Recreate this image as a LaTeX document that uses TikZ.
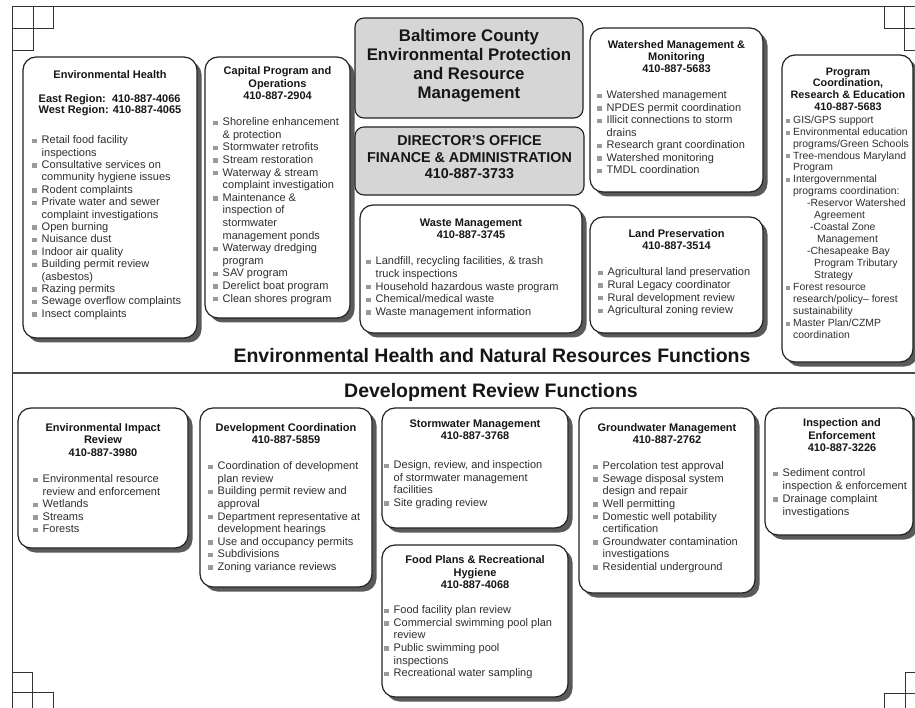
\documentclass[tikz,border=0pt]{standalone}
\usepackage{fontspec}
\setmainfont{Liberation Sans}
\definecolor{bodytxt}{HTML}{2E2E2E}
\definecolor{ttltxt}{HTML}{161616}
\definecolor{graybg}{HTML}{D6D6D6}
\definecolor{shadowc}{HTML}{5A5A5A}
\definecolor{edge}{HTML}{222222}
\definecolor{bulc}{HTML}{9A9A9A}
\newcommand{\bu}{\makebox[9.5pt][l]{\textcolor{bulc}{\rule[0.6pt]{4.4pt}{4.4pt}}}}
\newcommand{\ci}{\hspace*{9.5pt}}
\newcommand{\bs}{\makebox[7pt][l]{\textcolor{bulc}{\rule[0.6pt]{4pt}{4pt}}}}
\newcommand{\cs}{\hspace*{7pt}}
\tikzset{
 wbox/.style={draw=edge, line width=1.2pt, fill=white, rounded corners=13pt, inner sep=0pt, outer sep=0pt},
 gbox/.style={draw=edge, line width=1.1pt, fill=graybg, rounded corners=9pt, inner sep=0pt, outer sep=0pt},
 sbox/.style={fill=shadowc, rounded corners=13pt, inner sep=0pt, outer sep=0pt},
 ttl/.style={font=\fontsize{11}{12.2}\selectfont\bfseries, text=ttltxt, align=center, anchor=north, inner sep=0pt},
 body/.style={font=\fontsize{11}{12.6}\selectfont, text=bodytxt, align=left, anchor=north west, inner sep=0pt},
 heading/.style={font=\fontsize{19.5}{22}\selectfont\bfseries, text=ttltxt, anchor=base, inner sep=0pt},
 crop/.style={draw=black!80, line width=0.9pt},
 divider/.style={draw=black!70, line width=2.2pt},
}
\newcommand{\panel}[5]{%
  \node[sbox, minimum width={#4pt-#2pt}, minimum height={#5pt-#3pt}, anchor=north west] (#1s) at ({#2+4.5},{#3+4.5}) {};
  \node[wbox, minimum width={#4pt-#2pt}, minimum height={#5pt-#3pt}, anchor=north west] (#1) at (#2,#3) {};
}
\newcommand{\gpanel}[5]{%
  \node[gbox, minimum width={#4pt-#2pt}, minimum height={#5pt-#3pt}, anchor=north west] (#1) at (#2,#3) {};
}
\begin{document}
\begin{tikzpicture}[x=1pt,y=-1pt]
\useasboundingbox (0,0) rectangle (915,708);
\clip (0,0) rectangle (915,708);
\fill[white] (0,0) rectangle (915,708);

% frame and crop marks
\draw[crop] (915,6) -- (12,6) -- (12,708);
\draw[crop] (12,28) -- (53,28) -- (53,6);
\draw[crop] (33,6) -- (33,50) -- (12,50);
\draw[crop] (915,28) -- (884,28) -- (884,6);
\draw[crop] (904,6) -- (904,50) -- (915,50);
\draw[crop] (12,672) -- (32,672) -- (32,708);
\draw[crop] (12,692) -- (53,692) -- (53,708);
\draw[crop] (915,672) -- (905,672) -- (905,708);
\draw[crop] (915,693) -- (884,693) -- (884,708);
\draw[divider] (12,373) -- (915,373);

% ---------- top section ----------
\panel{eh}{23}{57}{197}{338}
\node[ttl] (ehT) at (110,70.5) {Environmental Health};
\node[ttl, align=left, font=\fontsize{11}{11}\selectfont\bfseries] (ehR) at (110,94.5) {East Region:\ \ 410-887-4066\\West Region: 410-887-4065};
\node[body, font=\fontsize{11}{12.4}\selectfont] (ehL) at (32,135.5) {\bu Retail food facility\\
\ci inspections\\
\bu Consultative services on\\
\ci community hygiene issues\\
\bu Rodent complaints\\
\bu Private water and sewer\\
\ci complaint investigations\\
\bu Open burning\\
\bu Nuisance dust\\
\bu Indoor air quality\\
\bu Building permit review\\
\ci (asbestos)\\
\bu Razing permits\\
\bu Sewage overflow complaints\\
\bu Insect complaints};

\panel{cp}{205}{57}{350}{318}
\node[ttl, font=\fontsize{11}{12.5}\selectfont\bfseries] (cpT) at (277.5,66.5) {Capital Program and\\Operations\\410-887-2904};
\node[body] (cpL) at (213,117.5) {\bu Shoreline enhancement\\
\ci \& protection\\
\bu Stormwater retrofits\\
\bu Stream restoration\\
\bu Waterway \& stream\\
\ci complaint investigation\\
\bu Maintenance \&\\
\ci inspection of\\
\ci stormwater\\
\ci management ponds\\
\bu Waterway dredging\\
\ci program\\
\bu SAV program\\
\bu Derelict boat program\\
\bu Clean shores program};

\gpanel{bal}{355}{18}{583}{118}
\node[ttl, font=\fontsize{16.8}{19.3}\selectfont\bfseries] (balT) at (469,28.7) {Baltimore County\\Environmental Protection\\and Resource\\Management};

\gpanel{dir}{355}{127}{584}{195}
\node[ttl, font=\fontsize{14.3}{16.2}\selectfont\bfseries] (dirT) at (469.5,135.7) {DIRECTOR'S OFFICE\\FINANCE \& ADMINISTRATION\\410-887-3733};

\panel{wm}{360}{205}{582}{333}
\node[ttl] (wmT) at (471,218.5) {Waste Management\\410-887-3745};
\node[body, font=\fontsize{11}{12.7}\selectfont] (wmL) at (366,256.5) {\bu Landfill, recycling facilities, \& trash\\
\ci truck inspections\\
\bu Household hazardous waste program\\
\bu Chemical/medical waste\\
\bu Waste management information};

\panel{ws}{590}{28}{763}{192}
\node[ttl, font=\fontsize{11}{11.7}\selectfont\bfseries] (wsT) at (676.5,40.5) {Watershed Management \&\\Monitoring\\410-887-5683};
\node[body, font=\fontsize{11}{12.5}\selectfont] (wsL) at (597,90.5) {\bu Watershed management\\
\bu NPDES permit coordination\\
\bu Illicit connections to storm\\
\ci drains\\
\bu Research grant coordination\\
\bu Watershed monitoring\\
\bu TMDL coordination};

\panel{lp}{590}{217}{763}{333}
\node[ttl] (lpT) at (676.5,229.5) {Land Preservation\\410-887-3514};
\node[body, font=\fontsize{11}{12.7}\selectfont] (lpL) at (598,267.5) {\bu Agricultural land preservation\\
\bu Rural Legacy coordinator\\
\bu Rural development review\\
\bu Agricultural zoning review};

\panel{pc}{782}{55}{913}{362}
\node[ttl, font=\fontsize{10.8}{11.7}\selectfont\bfseries] (pcT) at (848,67.5) {Program\\Coordination,\\Research \& Education\\410-887-5683};
\node[body, font=\fontsize{10.4}{11.94}\selectfont] (pcL) at (786,115.5) {\bs GIS/GPS support\\
\bs Environmental education\\
\cs programs/Green Schools\\
\bs Tree-mendous Maryland\\
\cs Program\\
\bs Intergovernmental\\
\cs programs coordination:\\
\hspace*{21pt}-Reservor Watershed\\
\hspace*{28pt}Agreement\\
\hspace*{24pt}-Coastal Zone\\
\hspace*{31pt}Management\\
\hspace*{21pt}-Chesapeake Bay\\
\hspace*{28pt}Program Tributary\\
\hspace*{28pt}Strategy\\
\bs Forest resource\\
\cs research/policy-- forest\\
\cs sustainability\\
\bs Master Plan/CZMP\\
\cs coordination};

% headings
\node[heading] (h1) at (492,362) {Environmental Health and Natural Resources Functions};
\node[heading] (h2) at (491,397) {Development Review Functions};

% ---------- bottom section ----------
\panel{ei}{18}{408}{188}{548}
\node[ttl] (eiT) at (103,423.5) {Environmental Impact\\Review\\410-887-3980};
\node[body, font=\fontsize{11}{12.5}\selectfont] (eiL) at (33,474.5) {\bu Environmental resource\\
\ci review and enforcement\\
\bu Wetlands\\
\bu Streams\\
\bu Forests};

\panel{dc}{200}{408}{372}{587}
\node[ttl] (dcT) at (286,423.5) {Development Coordination\\410-887-5859};
\node[body] (dcL) at (208,461.5) {\bu Coordination of development\\
\ci plan review\\
\bu Building permit review and\\
\ci approval\\
\bu Department representative at\\
\ci development hearings\\
\bu Use and occupancy permits\\
\bu Subdivisions\\
\bu Zoning variance reviews};

\panel{sw}{382}{408}{568}{528}
\node[ttl] (swT) at (475,419.5) {Stormwater Management\\410-887-3768};
\node[body] (swL) at (384,460.5) {\bu Design, review, and inspection\\
\ci of stormwater management\\
\ci facilities\\
\bu Site grading review};

\panel{fp}{382}{545}{568}{697}
\node[ttl, font=\fontsize{11}{12.5}\selectfont\bfseries] (fpT) at (475,555.5) {Food Plans \& Recreational\\Hygiene\\410-887-4068};
\node[body] (fpL) at (384,605.5) {\bu Food facility plan review\\
\bu Commercial swimming pool plan\\
\ci review\\
\bu Public swimming pool\\
\ci inspections\\
\bu Recreational water sampling};

\panel{gw}{579}{408}{755}{593}
\node[ttl] (gwT) at (667,423.5) {Groundwater Management\\410-887-2762};
\node[body] (gwL) at (593,461.5) {\bu Percolation test approval\\
\bu Sewage disposal system\\
\ci design and repair\\
\bu Well permitting\\
\bu Domestic well potability\\
\ci certification\\
\bu Groundwater contamination\\
\ci investigations\\
\bu Residential underground};

\panel{ie}{765}{408}{913}{535}
\node[ttl, font=\fontsize{11}{12.5}\selectfont\bfseries] (ieT) at (842,418.5) {Inspection and\\Enforcement\\410-887-3226};
\node[body, font=\fontsize{11}{12.8}\selectfont] (ieL) at (773,468.5) {\bu Sediment control\\
\ci inspection \& enforcement\\
\bu Drainage complaint\\
\ci investigations};
\end{tikzpicture}
\end{document}
